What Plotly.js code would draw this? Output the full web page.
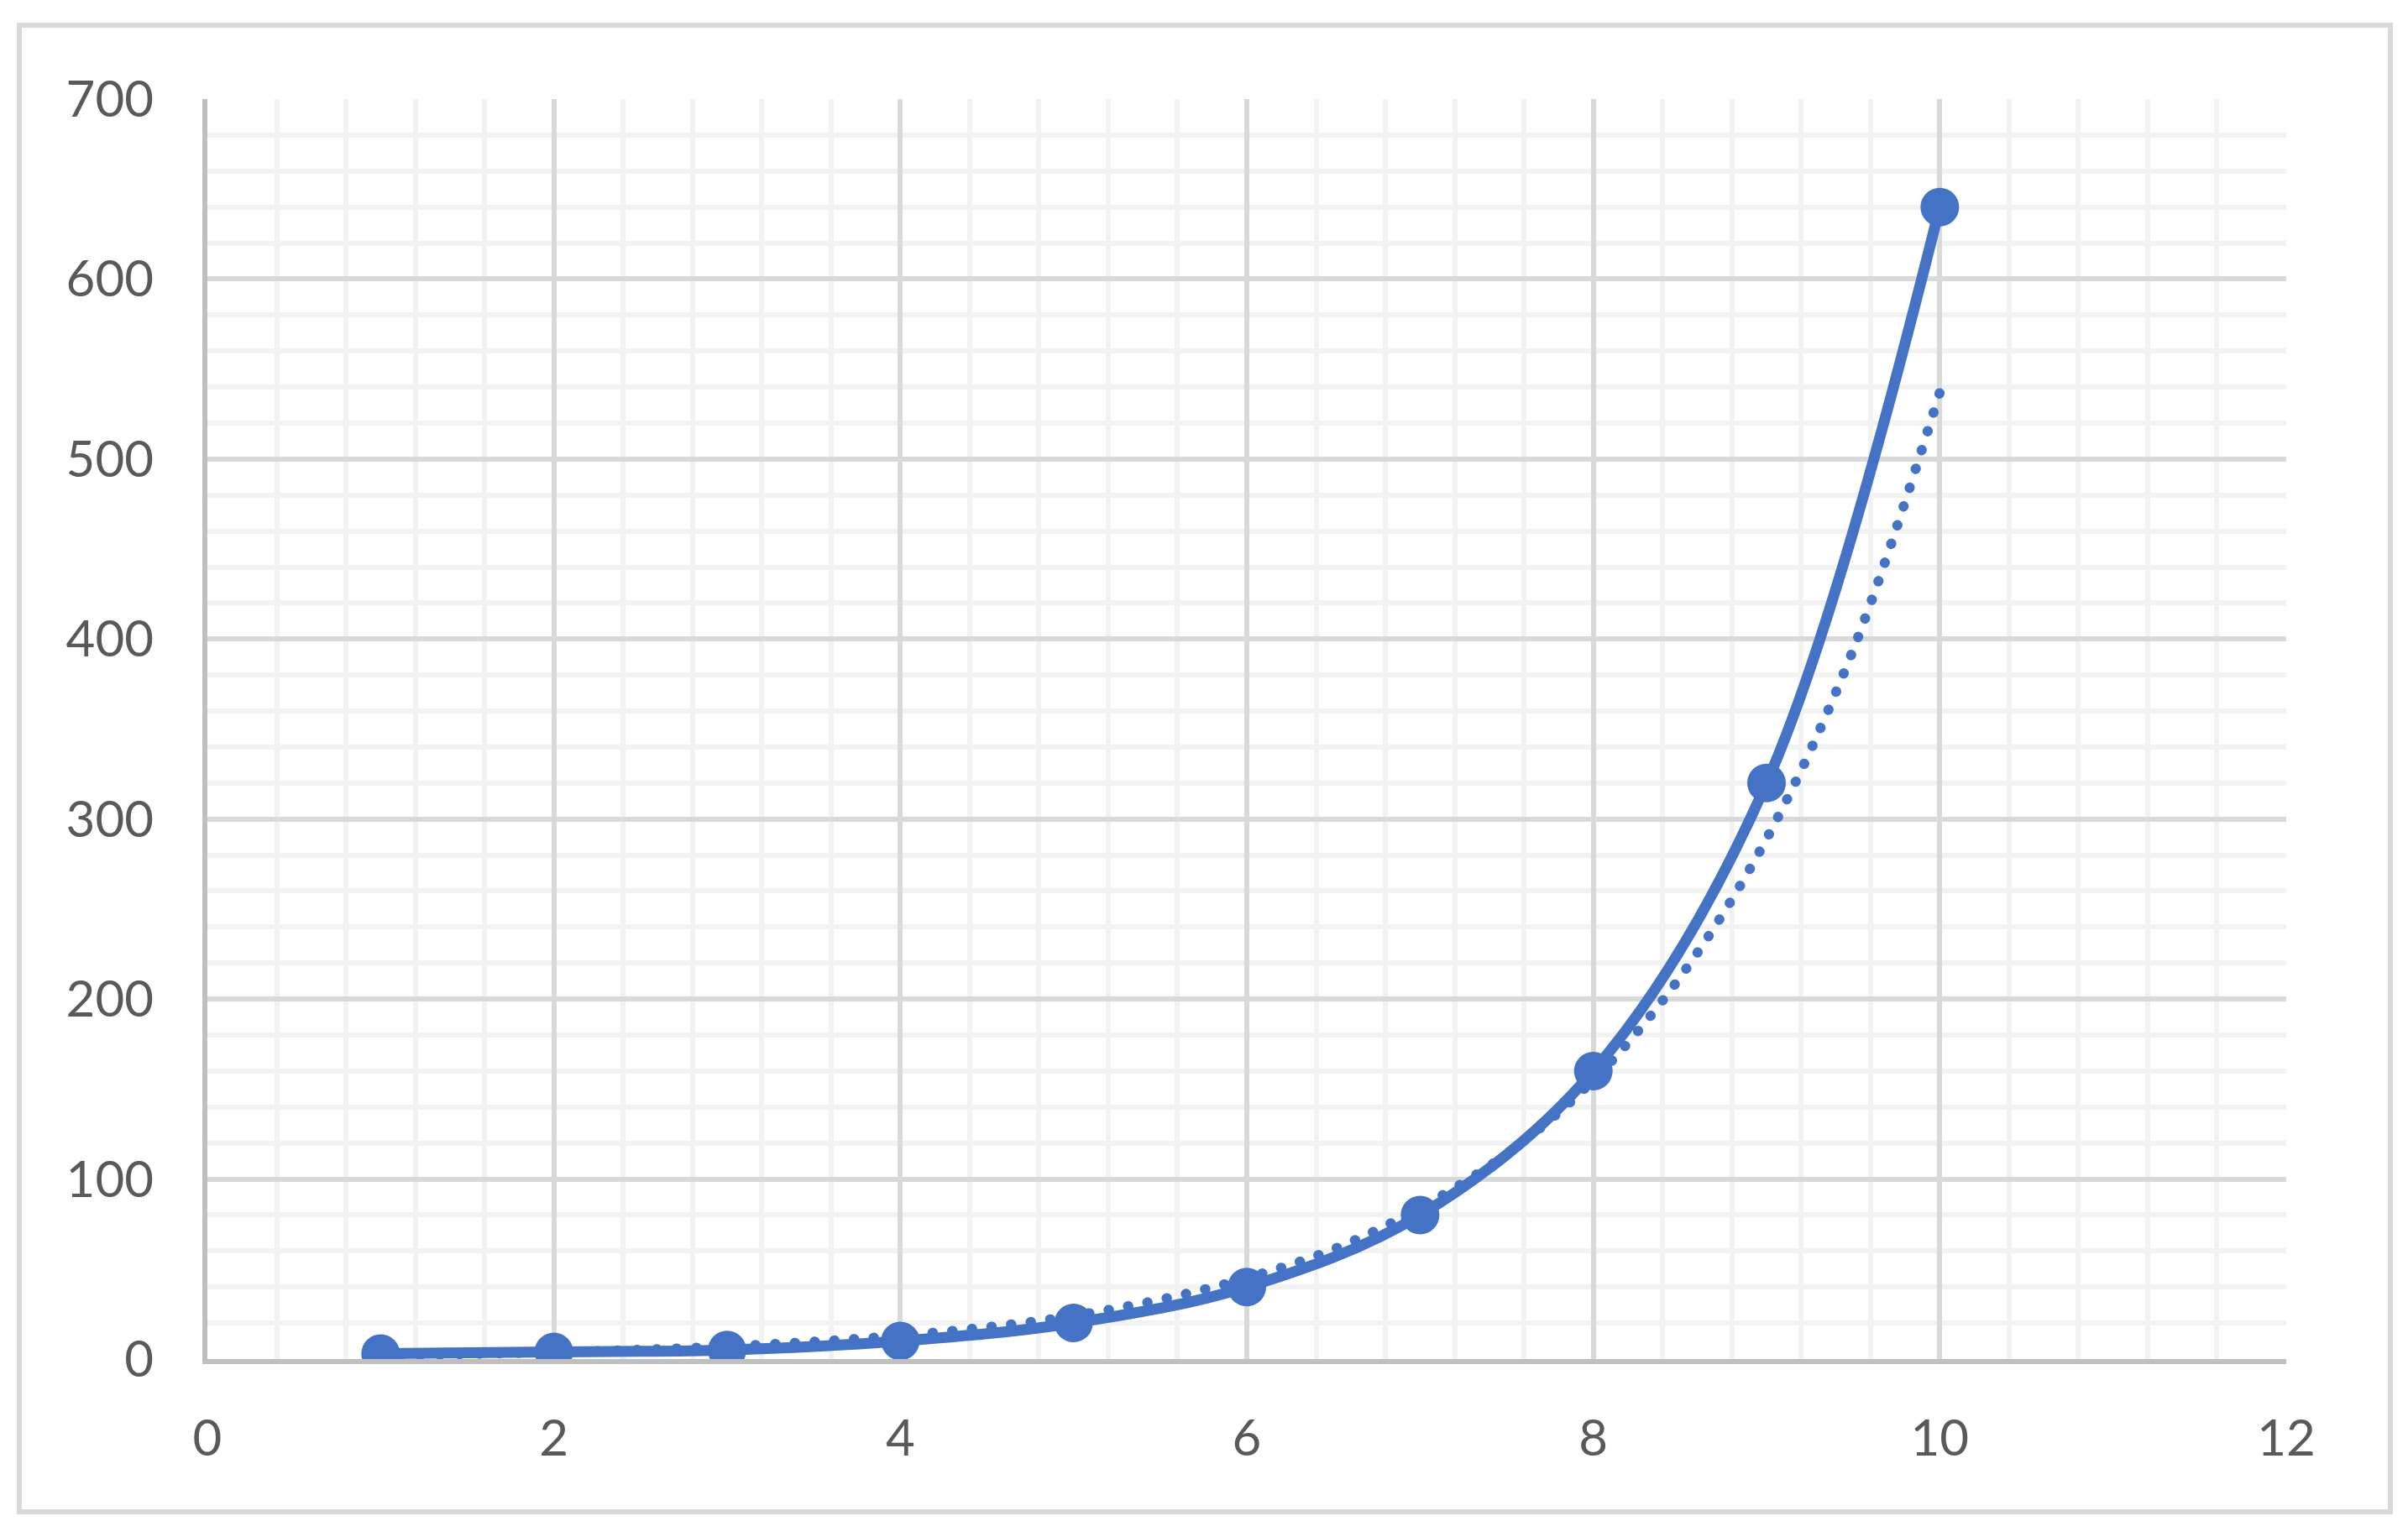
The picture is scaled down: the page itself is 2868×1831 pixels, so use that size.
<!DOCTYPE html>
<html>
<head>
<meta charset="utf-8">
<script src="https://cdn.plot.ly/plotly-3.0.1.min.js"></script>
<style>
  html, body { margin: 0; padding: 0; background: #ffffff; }
  #chart { width: 2868px; height: 1831px; }
  .scatterlayer .js-line { stroke-linecap: round; stroke-linejoin: round; }
</style>
</head>
<body>
<div id="chart"></div>
<script>
// Data series
var xValues = [1, 2, 3, 4, 5, 6, 7, 8, 9, 10];
var yValues = [3, 4, 5, 10, 20, 40, 80, 160, 320, 640];

// Dotted trendline at half-unit steps
var trendX = [1, 1.5, 2, 2.5, 3, 3.5, 4, 4.5, 5, 5.5, 6, 6.5, 7, 7.5, 8, 8.5, 9, 9.5, 10];
var trendY = [2.0, 2.8, 3.8, 5.2, 7.0, 9.6, 13, 17.7, 24, 33, 45, 61, 84, 114, 155, 212, 289, 394, 537];

// Axis ticks
var xTickVals = [0, 2, 4, 6, 8, 10, 12];
var yTickVals = [0, 100, 200, 300, 400, 500, 600, 700];

var W = 2868, H = 1831;
var L = 247, R = 2723, T = 118, B = 1619;
function px2paperX(p) { return (p - L) / (R - L); }
function px2paperY(p) { return (B - p) / (B - T); }

var blue = '#4472c4';

var traces = [
  {
    x: trendX, y: trendY,
    type: 'scatter', mode: 'lines',
    line: { color: blue, width: 12, dash: '0.5px,23px', shape: 'spline', smoothing: 1 },
    hoverinfo: 'skip', showlegend: false
  },
  {
    x: xValues, y: yValues,
    type: 'scatter', mode: 'lines+markers',
    line: { color: blue, width: 13, shape: 'spline', smoothing: 1 },
    marker: { color: blue, size: 46 },
    hoverinfo: 'skip', showlegend: false
  }
];

var tickFont = { family: 'Lato, "Open Sans", sans-serif', size: 60, color: '#595959' };

var layout = {
  width: W, height: H,
  margin: { l: L, r: W - R, t: T, b: H - B, pad: 0 },
  paper_bgcolor: '#ffffff',
  plot_bgcolor: '#ffffff',
  showlegend: false,
  xaxis: {
    range: [0, 12],
    tickvals: xTickVals,
    ticktext: xTickVals.map(String),
    showgrid: true, gridcolor: '#d9d9d9', gridwidth: 6,
    minor: { dtick: 0.4, tick0: 0, showgrid: true, gridcolor: '#f2f2f2', gridwidth: 6, ticks: '' },
    zeroline: false,
    showline: true, linecolor: '#bfbfbf', linewidth: 6,
    ticks: '', ticklabelstandoff: 37,
    tickfont: tickFont,
    fixedrange: true
  },
  yaxis: {
    range: [0, 700],
    tickvals: yTickVals,
    ticktext: yTickVals.map(String),
    showgrid: true, gridcolor: '#d9d9d9', gridwidth: 6,
    minor: { dtick: 20, tick0: 0, showgrid: true, gridcolor: '#f2f2f2', gridwidth: 6, ticks: '' },
    zeroline: false,
    showline: true, linecolor: '#bfbfbf', linewidth: 6,
    ticks: '', ticklabelstandoff: 46,
    tickfont: tickFont,
    fixedrange: true
  },
  shapes: [
    {
      type: 'rect', xref: 'paper', yref: 'paper', layer: 'below',
      x0: px2paperX(23), x1: px2paperX(2847),
      y0: px2paperY(1801), y1: px2paperY(30),
      line: { color: '#d9d9d9', width: 6 },
      fillcolor: 'rgba(0,0,0,0)'
    }
  ]
};

Plotly.newPlot('chart', traces, layout, { displayModeBar: false, staticPlot: true });
</script>
</body>
</html>
